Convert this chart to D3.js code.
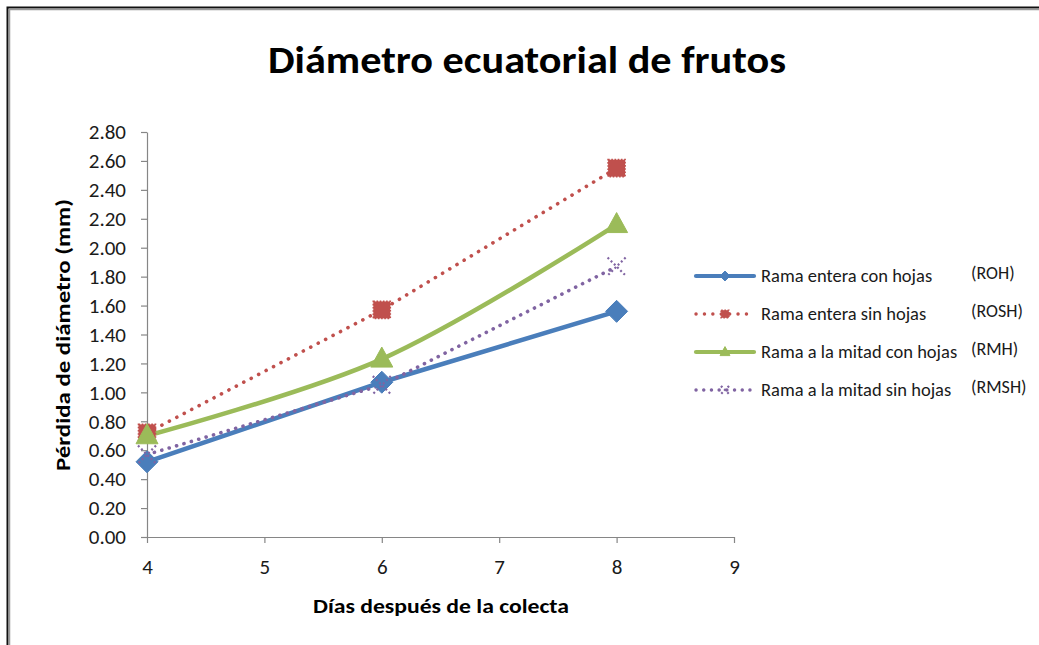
<!DOCTYPE html>
<html>
<head>
<meta charset="utf-8">
<script src="https://cdn.jsdelivr.net/npm/d3@7"></script>
<style>
  html, body { margin: 0; padding: 0; background: #fff; }
  svg { display: block; }
  text { font-family: Carlito, Calibri, Lato, "Open Sans", sans-serif; }
</style>
</head>
<body>
<svg id="chart" width="1039" height="645"></svg>
<script>
// Days after collection
const days = [4, 6, 8];
// Diameter loss (mm) per treatment
const roh  = [0.52, 1.07, 1.56];
const rosh = [0.72, 1.57, 2.55];
const rmh  = [0.70, 1.23, 2.16];
const rmsh = [0.57, 1.05, 1.87];

const seriesNames = ["Rama entera con hojas", "Rama entera sin hojas", "Rama a la mitad con hojas", "Rama a la mitad sin hojas"];
const seriesCodes = ["(ROH)", "(ROSH)", "(RMH)", "(RMSH)"];
const yTicks = [0, 0.2, 0.4, 0.6, 0.8, 1.0, 1.2, 1.4, 1.6, 1.8, 2.0, 2.2, 2.4, 2.6, 2.8];
const xTicks = [4, 5, 6, 7, 8, 9];

const series = [
  { name: seriesNames[0], code: seriesCodes[0], values: roh,  color: "#4A7EBB", dash: null,      width: 4.5, curve: d3.curveLinear,     marker: "diamond" },
  { name: seriesNames[1], code: seriesCodes[1], values: rosh, color: "#C0504D", dash: "0.1 8.3", width: 3.6, curve: d3.curveLinear,     marker: "square" },
  { name: seriesNames[2], code: seriesCodes[2], values: rmh,  color: "#9BBB59", dash: null,      width: 4.5, curve: d3.curveCatmullRom, marker: "triangle" },
  { name: seriesNames[3], code: seriesCodes[3], values: rmsh, color: "#8064A2", dash: "0.1 7.6", width: 3.6, curve: d3.curveLinear,     marker: "x" }
];

const svg = d3.select("#chart");

// Outer frame (top and left edges visible)
svg.append("path").attr("d", "M7.5,645 V7.5 H1039").attr("fill", "none").attr("stroke", "#111").attr("stroke-width", 2);
svg.append("path").attr("d", "M9.5,645 V9.5 H1039").attr("fill", "none").attr("stroke", "#999").attr("stroke-width", 1.5);

const x = d3.scaleLinear().domain([4, 9]).range([147, 734]);
const y = d3.scaleLinear().domain([0, 2.8]).range([537, 132]);

// Title
svg.append("text")
  .attr("x", 527).attr("y", 73)
  .attr("text-anchor", "middle")
  .attr("font-size", 38).attr("font-weight", "bold")
  .attr("textLength", 518).attr("lengthAdjust", "spacingAndGlyphs")
  .attr("fill", "#000")
  .text("Diámetro ecuatorial de frutos");

// Axes
const axisColor = "#868686";
const yAxis = svg.append("g")
  .attr("transform", `translate(${x(4)},0)`)
  .call(d3.axisLeft(y).tickValues(yTicks).tickFormat(d3.format(".2f")).tickSize(6).tickPadding(15).tickSizeOuter(0));
const xAxis = svg.append("g")
  .attr("transform", `translate(0,${y(0)})`)
  .call(d3.axisBottom(x).tickValues(xTicks).tickFormat(d3.format("d")).tickSize(6).tickPadding(16).tickSizeOuter(0));

[xAxis, yAxis].forEach(g => {
  g.select(".domain").attr("stroke", axisColor).attr("stroke-width", 1.2);
  g.selectAll(".tick line").attr("stroke", axisColor).attr("stroke-width", 1.2);
  g.selectAll(".tick text").attr("fill", "#1a1a1a").attr("font-size", 21)
    .attr("font-family", "Carlito, Calibri, Lato, sans-serif");
});

// Axis titles
svg.append("text")
  .attr("x", 441).attr("y", 613)
  .attr("text-anchor", "middle")
  .attr("font-size", 20).attr("font-weight", "bold")
  .attr("textLength", 256).attr("lengthAdjust", "spacingAndGlyphs")
  .text("Días después de la colecta");

svg.append("text")
  .attr("transform", "translate(70,335) rotate(-90)")
  .attr("text-anchor", "middle")
  .attr("font-size", 20).attr("font-weight", "bold")
  .attr("textLength", 272).attr("lengthAdjust", "spacingAndGlyphs")
  .text("Pérdida de diámetro (mm)");

// Marker shapes
function drawMarker(g, type, color, cx, cy, scale) {
  const s = scale;
  if (type === "diamond") {
    g.append("path")
      .attr("d", `M${cx},${cy - 11 * s} L${cx + 11 * s},${cy} L${cx},${cy + 11 * s} L${cx - 11 * s},${cy} Z`)
      .attr("fill", color).attr("stroke", color).attr("stroke-width", 1);
  } else if (type === "square") {
    g.append("rect")
      .attr("x", cx - 8.5 * s).attr("y", cy - 8.5 * s)
      .attr("width", 17 * s).attr("height", 17 * s)
      .attr("fill", color).attr("stroke", color)
      .attr("stroke-width", 1.6).attr("stroke-dasharray", "1.6 1.6");
  } else if (type === "triangle") {
    g.append("path")
      .attr("d", `M${cx},${cy - 12 * s} L${cx + 11 * s},${cy + 8 * s} L${cx - 11 * s},${cy + 8 * s} Z`)
      .attr("fill", color).attr("stroke", color).attr("stroke-width", 1);
  } else if (type === "x") {
    g.append("path")
      .attr("d", `M${cx - 9 * s},${cy - 9 * s} L${cx + 9 * s},${cy + 9 * s} M${cx + 9 * s},${cy - 9 * s} L${cx - 9 * s},${cy + 9 * s}`)
      .attr("fill", "none").attr("stroke", color).attr("stroke-width", 2.2)
      .attr("stroke-dasharray", "2 2.5");
  }
}

// Series lines and markers
const plot = svg.append("g");
series.forEach(s => {
  const line = d3.line().x((d, i) => x(days[i])).y(d => y(d)).curve(s.curve);
  const p = plot.append("path")
    .datum(s.values)
    .attr("d", line)
    .attr("fill", "none")
    .attr("stroke", s.color)
    .attr("stroke-width", s.width)
    .attr("stroke-linejoin", "round")
    .attr("stroke-linecap", "round");
  if (s.dash) p.attr("stroke-dasharray", s.dash);
});
series.forEach(s => {
  const g = plot.append("g");
  s.values.forEach((v, i) => drawMarker(g, s.marker, s.color, x(days[i]), y(v), 1));
});

// Legend
const legend = svg.append("g");
const legendRows = [276, 314, 352, 390];
series.forEach((s, i) => {
  const ly = legendRows[i];
  const seg = legend.append("line")
    .attr("x1", 696).attr("x2", 754).attr("y1", ly).attr("y2", ly)
    .attr("stroke", s.color)
    .attr("stroke-width", s.dash ? 3.4 : 4.2)
    .attr("stroke-linecap", "round");
  if (s.dash) seg.attr("stroke-dasharray", s.dash);
  drawMarker(legend.append("g"), s.marker, s.color, 725, ly, 0.45);
  legend.append("text")
    .attr("x", 761).attr("y", ly + 6)
    .attr("font-size", 18.5).attr("fill", "#1a1a1a")
    .text(s.name);
  legend.append("text")
    .attr("x", 971).attr("y", ly + 3)
    .attr("font-size", 18).attr("fill", "#1a1a1a")
    .text(s.code);
});
</script>
</body>
</html>
